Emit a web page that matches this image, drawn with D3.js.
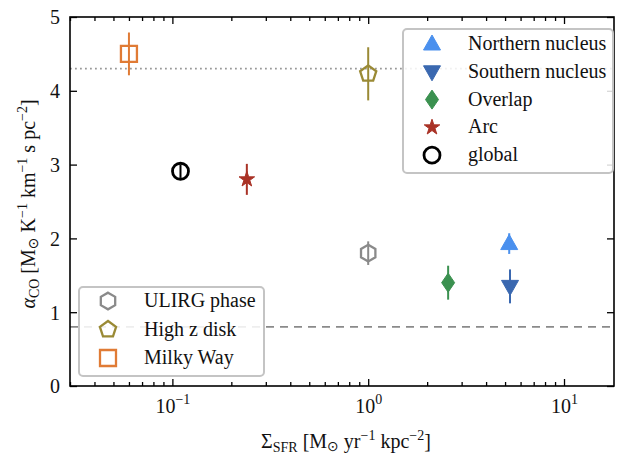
<!DOCTYPE html>
<html>
<head>
<meta charset="utf-8">
<script src="https://cdn.jsdelivr.net/npm/d3@7"></script>
<style>
  body { margin: 0; background: #fff; }
  svg text { font-family: "Liberation Serif", "Times New Roman", "DejaVu Serif", serif; fill: #111; }
</style>
</head>
<body>
<script>
const width = 624;
const height = 455;
const margin = {top: 17, right: 10, bottom: 69, left: 70};

// data
const labels = ["Northern nucleus", "Southern nucleus", "Overlap", "Arc", "global", "ULIRG phase", "High z disk", "Milky Way"];
const sfr = [5.25, 5.3, 2.56, 0.24, 0.11, 1.0, 1.0, 0.06];
const alphaCO = [1.93, 1.35, 1.40, 2.80, 2.91, 1.80, 4.23, 4.50];
const alphaErr = [0.14, 0.23, 0.23, 0.21, 0.09, 0.16, 0.36, 0.29];
const shapes = ["triUp", "triDown", "thinDiamond", "star", "circle", "hexagon", "pentagon", "square"];
const colors = ["#4a90ee", "#3a68b0", "#3b9150", "#a93226", "#000000", "#8a8a8a", "#9a8a35", "#e07b35"];
const filled = [true, true, true, true, false, false, false, false];

const refLines = [4.3, 0.8];
const xMajor = [0.1, 1, 10];
const yTicks = [0, 1, 2, 3, 4, 5];
const legendTop = [0, 1, 2, 3, 4];
const legendBottom = [5, 6, 7];

const fs = 20;   // main font size
const fsSub = 14;

const x = d3.scaleLog().domain([0.03, 18]).range([margin.left, width - margin.right]);
const y = d3.scaleLinear().domain([0, 5]).range([height - margin.bottom, margin.top]);

const svg = d3.select("body").append("svg")
  .attr("width", width)
  .attr("height", height);

// marker paths centred on 0,0
function polygon(n, r, rot) {
  const pts = d3.range(n).map(i => {
    const a = rot + i * 2 * Math.PI / n;
    return [r * Math.sin(a), -r * Math.cos(a)];
  });
  return "M" + pts.join("L") + "Z";
}
function markerPath(shape) {
  switch (shape) {
    case "triUp": return "M0,-9L8.5,6L-8.5,6Z";
    case "triDown": return "M0,9L8.5,-6L-8.5,-6Z";
    case "thinDiamond": return "M0,-9.5L6.5,0L0,9.5L-6.5,0Z";
    case "star": return d3.symbol(d3.symbolStar, 75)();
    case "circle": return d3.symbol(d3.symbolCircle, Math.PI * 8 * 8)();
    case "hexagon": return polygon(6, 8.3, 0);
    case "pentagon": return polygon(5, 8.5, 0);
    case "square": return "M-8,-8L8,-8L8,8L-8,8Z";
  }
}
function drawMarker(g, i) {
  g.append("path")
    .attr("d", markerPath(shapes[i]))
    .attr("fill", filled[i] ? colors[i] : "none")
    .attr("stroke", colors[i])
    .attr("stroke-width", filled[i] ? 1 : (shapes[i] === "circle" ? 2.8 : 2.3));
}

// reference lines
svg.append("line")
  .attr("x1", margin.left).attr("x2", width - margin.right)
  .attr("y1", y(refLines[0])).attr("y2", y(refLines[0]))
  .attr("stroke", "#999").attr("stroke-width", 1.8).attr("stroke-dasharray", "1.8,3.2");
svg.append("line")
  .attr("x1", margin.left).attr("x2", width - margin.right)
  .attr("y1", y(refLines[1])).attr("y2", y(refLines[1]))
  .attr("stroke", "#8a8a8a").attr("stroke-width", 1.8).attr("stroke-dasharray", "8,6");

// error bars + markers
const pts = svg.append("g");
labels.forEach((lab, i) => {
  pts.append("line")
    .attr("x1", x(sfr[i])).attr("x2", x(sfr[i]))
    .attr("y1", y(alphaCO[i] - alphaErr[i])).attr("y2", y(alphaCO[i] + alphaErr[i]))
    .attr("stroke", colors[i]).attr("stroke-width", 2);
  const g = pts.append("g").attr("transform", `translate(${x(sfr[i])},${y(alphaCO[i])})`);
  drawMarker(g, i);
});

// axes, ticks pointing inward on all sides
const xMinor = x.ticks().filter(v => !xMajor.includes(v));
const bottom = height - margin.bottom;
const right = width - margin.right;

const xAxis = svg.append("g").attr("transform", `translate(0,${bottom})`)
  .call(d3.axisBottom(x).tickValues(xMajor).tickSize(-7).tickFormat(""));
xAxis.selectAll(".tick text").attr("y", 27).attr("dy", 0).attr("font-size", fs)
  .each(function(d) {
    const t = d3.select(this);
    t.append("tspan").text("10");
    t.append("tspan").attr("dy", -9).attr("font-size", fsSub)
      .text(String(Math.round(Math.log10(d))).replace("-", "−"));
  });
svg.append("g").attr("transform", `translate(0,${bottom})`)
  .call(d3.axisBottom(x).tickValues(xMinor).tickSize(-4).tickFormat(""));
svg.append("g").attr("transform", `translate(0,${margin.top})`)
  .call(d3.axisTop(x).tickValues(xMajor).tickSize(-7).tickFormat(""));
svg.append("g").attr("transform", `translate(0,${margin.top})`)
  .call(d3.axisTop(x).tickValues(xMinor).tickSize(-4).tickFormat(""));

svg.append("g").attr("transform", `translate(${margin.left},0)`)
  .call(d3.axisLeft(y).tickValues(yTicks).tickSize(-7).tickPadding(10).tickFormat(d3.format("d")))
  .selectAll("text").attr("font-size", fs).attr("dy", "0.34em");
svg.append("g").attr("transform", `translate(${right},0)`)
  .call(d3.axisRight(y).tickValues(yTicks).tickSize(-7).tickFormat(""));

svg.selectAll(".domain").remove();
svg.selectAll(".tick line").attr("stroke", "#000").attr("stroke-width", 1.3);
svg.append("rect")
  .attr("x", margin.left).attr("y", margin.top)
  .attr("width", right - margin.left).attr("height", bottom - margin.top)
  .attr("fill", "none").attr("stroke", "#000").attr("stroke-width", 1.6);

// axis labels (built from pieces: [text, kind]) - kind: n normal, s sub, p sup, o odot, i italic
function richText(sel, parts) {
  let cur = 0;
  parts.forEach(([txt, kind]) => {
    const target = kind === "s" ? 4 : kind === "p" ? -8 : kind === "o" ? 3 : 0;
    const ts = sel.append("tspan").attr("dy", target - cur).text(txt);
    cur = target;
    if (kind === "s" || kind === "p") ts.attr("font-size", fsSub);
    if (kind === "o") ts.attr("font-size", fsSub).style("font-family", "DejaVu Sans");
    if (kind === "i") ts.attr("font-style", "italic");
  });
}

const xl = svg.append("text").attr("x", 0).attr("y", 448).attr("font-size", fs);
richText(xl, [["Σ", "n"], ["SFR", "s"], [" [M", "n"], ["⊙", "o"], [" yr", "n"], ["−1", "p"],
  [" kpc", "n"], ["−2", "p"], ["]", "n"]]);
const xb = xl.node().getBBox();
xl.attr("x", 346 - xb.width / 2);

const yl = svg.append("text").attr("font-size", fs);
richText(yl, [["α", "i"], ["CO", "s"], [" [M", "n"], ["⊙", "o"], [" K", "n"], ["−1", "p"],
  [" km", "n"], ["−1", "p"], [" s pc", "n"], ["−2", "p"], ["]", "n"]]);
const yb = yl.node().getBBox();
yl.attr("transform", `translate(35,${204 + yb.width / 2}) rotate(-90)`);

// legends
function legend(idx, bx, by, bw, bh, mx, tx, firstY, step) {
  const g = svg.append("g");
  g.append("rect").attr("x", bx).attr("y", by).attr("width", bw).attr("height", bh)
    .attr("rx", 4).attr("fill", "#fff").attr("fill-opacity", 0.85)
    .attr("stroke", "#c4c4c4").attr("stroke-width", 2);
  idx.forEach((i, k) => {
    const cy = firstY + k * step;
    const m = g.append("g").attr("transform", `translate(${mx},${cy})`);
    drawMarker(m, i);
    g.append("text").attr("x", tx).attr("y", cy + 6).attr("font-size", fs).text(labels[i]);
  });
}
legend(legendTop, 403, 29, 210, 144, 432, 468, 44, 27.8);
legend(legendBottom, 79, 287, 185, 89, 108, 144, 301, 28.5);
</script>
</body>
</html>
